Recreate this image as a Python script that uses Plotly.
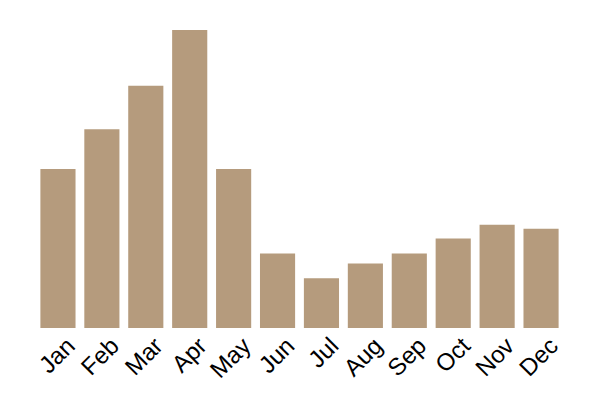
import plotly.graph_objects as go

months = ['Jan', 'Feb', 'Mar', 'Apr', 'May', 'Jun', 'Jul', 'Aug', 'Sep', 'Oct', 'Nov', 'Dec']
values = [16, 20, 24.4, 30, 16, 7.5, 5, 6.5, 7.5, 9, 10.4, 10]

fig = go.Figure()
fig.add_trace(go.Bar(x=months, y=values, marker=dict(color='#b59b7d', line=dict(width=0))))

# page body has an 8px margin, so the figure is a bit smaller than the window
fig.update_layout(
    width=584, height=384,
    margin=dict(l=28, r=29, t=22, b=64),
    plot_bgcolor='white', paper_bgcolor='white',
    bargap=0.2,
    showlegend=False,
    font=dict(family='Arial, Liberation Sans, sans-serif', size=20, color='black'),
)
fig.update_xaxes(tickangle=-45, showgrid=False, showline=False, ticks='',
                 automargin=False, ticklabelshift=10, ticklabelstandoff=-2,
                 tickfont=dict(size=24, color='black'))
fig.update_yaxes(visible=False, range=[0, 30], automargin=False)

fig.write_html("out.html")
